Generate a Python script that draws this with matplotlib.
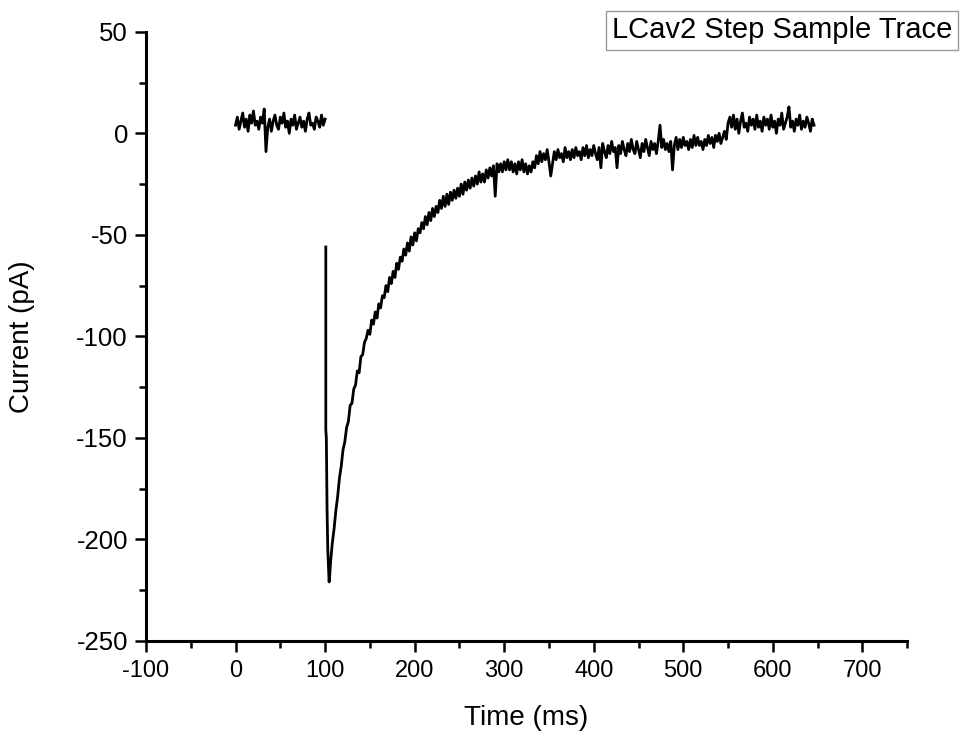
import numpy as np
import matplotlib.pyplot as plt

plt.rcParams['font.family'] = ['Liberation Sans', 'DejaVu Sans']
plt.rcParams['axes.unicode_minus'] = False

# baseline before the step, sampled every 2 ms from 0 ms
dt = 2.0
pre_start = 0.0
pre_current = [4, 8, 2, 6, 10, 3, 7, 1, 9, 5,
               11, 4, 6, 2, 8, 5, 12, -9, 3, 7,
               1, 6, 9, 4, 2, 8, 5, 10, 3, 6,
               0, 7, 4, 9, 2, 5, 8, 3, 6, 1,
               7, 10, 4, 5, 2, 8, 6, 3, 9, 4,
               7]

# capacitive artifact and peak
peak_time = [100.8, 100.8, 101.4, 102.2, 103.0, 103.8, 104.5, 105.3]
peak_current = [-56, -146, -150, -185, -205, -214, -221, -217]

# decay, sampled every 2 ms from 106 ms
decay_start = 106.0
decay_current = [
    -212, -202, -195, -186, -179,
    -170, -164, -156, -152, -145,
    -142, -134, -133, -126, -124,
    -117, -118, -110, -109, -103,
    -101, -97, -99, -92, -94,
    -88, -91, -84, -86, -80,
    -81, -75, -78, -71, -74,
    -68, -71, -64, -67, -61,
    -63, -57, -60, -54, -58,
    -51, -55, -49, -53, -47,
    -49, -44, -47, -41, -45,
    -39, -43, -37, -41, -36,
    -39, -33, -37, -31, -36,
    -30, -35, -29, -33, -28,
    -32, -27, -31, -25, -30,
    -24, -28, -23, -27, -22,
    -26, -21, -25, -19, -24,
    -20, -24, -18, -22, -17,
    -21, -16, -31, -15, -19,
    -15, -19, -14, -18, -13,
    -18, -14, -19, -15, -20,
    -14, -18, -13, -19, -15,
    -20, -16, -19, -14, -17,
    -11, -15, -9, -14, -10,
    -13, -8, -14, -21, -15,
    -9, -13, -8, -12, -10,
    -14, -7, -12, -9, -13,
    -8, -12, -7, -11, -9,
    -13, -7, -11, -6, -12,
    -8, -11, -6, -10, -13,
    -7, -17, -5, -9, -12,
    -6, -10, -4, -9, -7,
    -17, -6, -10, -4, -8,
    -11, -5, -9, -3, -8,
    -10, -4, -8, -12, -5,
    -9, -3, -7, -11, -4,
    -8, -5, -10, -4, 4,
    -7, -3, -8, -5, -9,
    -4, -18, -6, -2, -8,
    -3, -7, -2, -6, -4,
    -8, -3, -7, -1, -6,
    -2, -6, -4, -8, -3,
    -6, -1, -5, -2, -7,
    -1, -4, 0, -5, -2,
    1, -3, 5, 8, 3,
    9, 2, 7, 0, 6,
    10, 3, 5, 1, 8,
    4, 7, 2, 9, 3,
    6, 1, 8, 4, 7,
    2, 9, 3, 6, 0,
    7, 4, 10, 2, 5,
    8, 13, 3, 6, 1,
    7, 4, 9, 2, 6,
    3, 8, 5, 1, 7,
    4]

pre_time = pre_start + dt * np.arange(len(pre_current))
decay_time = decay_start + dt * np.arange(len(decay_current))
step_time = np.concatenate([peak_time, decay_time])
step_current = np.concatenate([peak_current, decay_current])

fig = plt.figure(figsize=(9.63, 7.4), dpi=100)
ax = fig.add_axes([0.1516, 0.134, 0.7904, 0.823])

ax.plot(pre_time, pre_current, color='black', lw=2.0)
ax.plot(step_time, step_current, color='black', lw=2.0)

ax.set_xlim(-100, 750)
ax.set_ylim(-250, 50)
ax.set_xticks(np.arange(-100, 701, 100))
ax.set_xticks(np.arange(-50, 751, 100), minor=True)
ax.set_yticks(np.arange(-250, 51, 50))
ax.set_yticks(np.arange(-225, 50, 50), minor=True)

for s in ['top', 'right']:
    ax.spines[s].set_visible(False)
for s in ['left', 'bottom']:
    ax.spines[s].set_linewidth(2.2)

ax.tick_params(which='major', direction='out', length=8, width=1.8)
ax.tick_params(which='minor', direction='out', length=5, width=1.8)
ax.tick_params(axis='x', pad=6, labelsize=17)
ax.tick_params(axis='y', pad=5, labelsize=18.5)

ax.set_xlabel('Time (ms)', fontsize=20)
ax.set_ylabel('Current (pA)', fontsize=20)
ax.xaxis.set_label_coords(0.5, -0.105)
ax.yaxis.set_label_coords(-0.146, 0.5)

fig.text(0.812, 0.959, 'LCav2 Step Sample Trace', fontsize=21,
         ha='center', va='center',
         bbox=dict(boxstyle='square,pad=0.2', facecolor='white', edgecolor='#999999', lw=1))

fig.savefig('out.png', dpi=100)
